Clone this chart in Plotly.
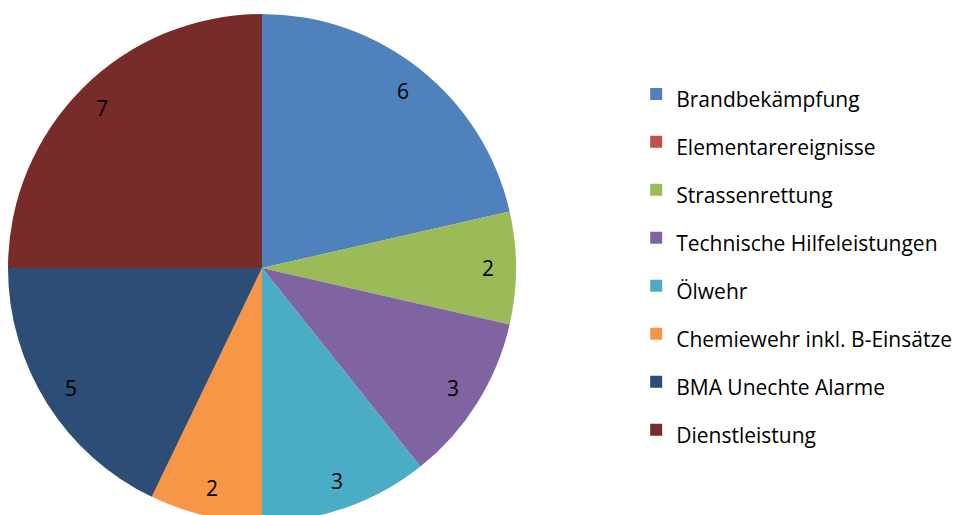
import math
import plotly.graph_objects as go

categories = ["Brandbekämpfung", "Elementarereignisse", "Strassenrettung",
              "Technische Hilfeleistungen", "Ölwehr", "Chemiewehr inkl. B-Einsätze",
              "BMA Unechte Alarme", "Dienstleistung"]
values = [6, 0, 2, 3, 3, 2, 5, 7]
colors = ["#4F81BD", "#C0504D", "#9BBB59", "#8064A2", "#4BACC6", "#F79646", "#2C4D75", "#772C2A"]

W, H = 980, 515
FONT = "Open Sans, Lato, sans-serif"
legend_labels = ["<span style='font-size:21px'>%s</span>" % c for c in categories]

dom_x = [0.0, 508 / W]
dom_y = [1 / H, 509 / H]

fig = go.Figure(go.Pie(
    labels=legend_labels,
    values=values,
    textinfo="none",
    marker=dict(colors=colors, line=dict(width=0)),
    sort=False,
    direction="clockwise",
    rotation=0,
    domain=dict(x=dom_x, y=dom_y),
    hoverinfo="label+value",
    showlegend=True,
))

# value labels placed along each slice's mid-angle
cx = (dom_x[0] + dom_x[1]) / 2 * W
cy = (dom_y[0] + dom_y[1]) / 2 * H
R = min((dom_x[1] - dom_x[0]) * W, (dom_y[1] - dom_y[0]) * H) / 2
total = sum(values)
cum = 0
for v in values:
    if v:
        mid = (cum + v / 2) / total * 2 * math.pi
        r = 0.89 * R
        fig.add_annotation(
            x=(cx + r * math.sin(mid)) / W, y=(cy + r * math.cos(mid)) / H,
            xref="paper", yref="paper", text=str(v), showarrow=False,
            xanchor="center", yanchor="middle",
            font=dict(size=21, color="black", family=FONT),
        )
    cum += v

fig.update_layout(
    width=W, height=H,
    margin=dict(l=0, r=0, t=0, b=0),
    paper_bgcolor="white",
    plot_bgcolor="white",
    font=dict(family=FONT, color="black"),
    legend=dict(
        x=0.641, xanchor="left",
        y=0.507, yanchor="middle",
        font=dict(size=34.6, color="black", family=FONT),
        traceorder="normal",
    ),
)

fig.write_html("out.html")
